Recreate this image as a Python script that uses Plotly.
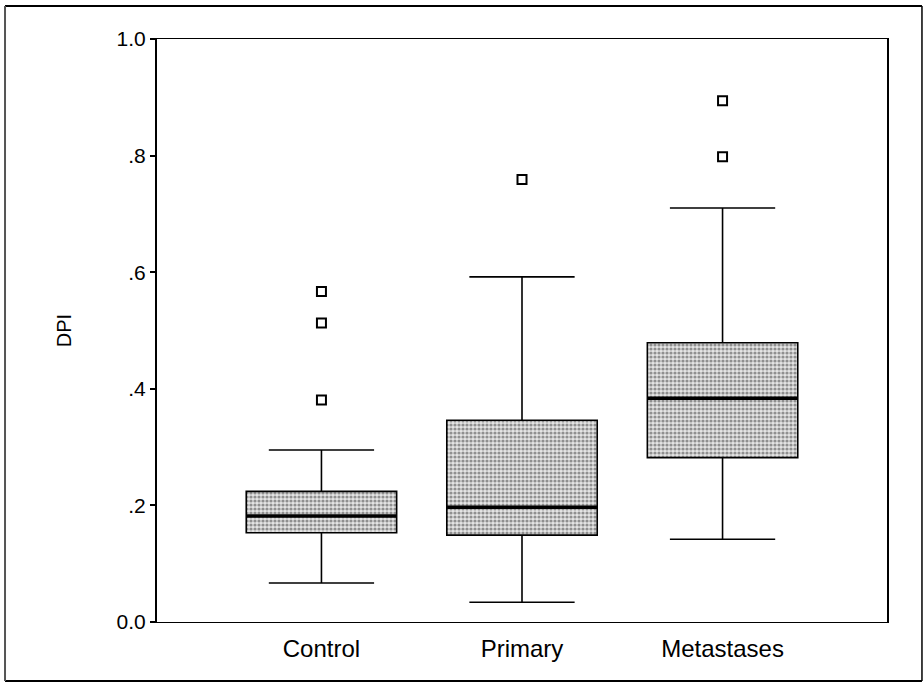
import plotly.graph_objects as go

# Group summaries of DPI
groups = ["Control", "Primary", "Metastases"]
q1 = [0.153, 0.149, 0.282]
median = [0.182, 0.197, 0.384]
q3 = [0.224, 0.346, 0.479]
lower_fence = [0.067, 0.034, 0.142]
upper_fence = [0.295, 0.592, 0.710]

# Outlying observations per group
outlier_groups = ["Control", "Control", "Control", "Primary", "Metastases", "Metastases"]
outlier_values = [0.567, 0.513, 0.381, 0.759, 0.894, 0.798]

y_ticks = [0.0, 0.2, 0.4, 0.6, 0.8, 1.0]
y_tick_text = ["0.0", ".2", ".4", ".6", ".8", "1.0"]

FONT = "Liberation Sans, Arial, sans-serif"
BOX_W = 0.75

fig = go.Figure()

# stippled fill of the interquartile boxes
fig.add_trace(go.Bar(
    x=groups,
    base=q1,
    y=[b - a for a, b in zip(q1, q3)],
    width=BOX_W,
    marker=dict(
        color="#dcdcdc",
        line=dict(width=0),
        pattern=dict(shape=".", fgcolor="#3a3a3a", bgcolor="#e4e4e4", size=4, solidity=0.5),
    ),
    hoverinfo="skip",
    showlegend=False,
))

# box outline, median and whiskers
fig.add_trace(go.Box(
    x=groups,
    q1=q1,
    median=median,
    q3=q3,
    lowerfence=lower_fence,
    upperfence=upper_fence,
    width=BOX_W,
    whiskerwidth=0.7,
    fillcolor="rgba(0,0,0,0)",
    line=dict(color="black", width=1.6),
    boxpoints=False,
    showlegend=False,
))

# heavier median bars
for i, m in enumerate(median):
    fig.add_trace(go.Scatter(
        x=[i - BOX_W / 2, i + BOX_W / 2],
        y=[m, m],
        xaxis="x2",
        mode="lines",
        line=dict(color="black", width=3.5),
        hoverinfo="skip",
        showlegend=False,
    ))

# outliers
fig.add_trace(go.Scatter(
    x=outlier_groups,
    y=outlier_values,
    mode="markers",
    marker=dict(symbol="square-open", size=9, color="black", line=dict(width=2, color="black")),
    showlegend=False,
))

X_RANGE = [-0.82, 2.82]

fig.update_layout(
    width=924,
    height=683,
    margin=dict(l=157, r=37, t=39, b=61),
    paper_bgcolor="white",
    plot_bgcolor="white",
    font=dict(family=FONT, color="black", size=20),
    barmode="overlay",
    xaxis=dict(
        type="category",
        categoryorder="array",
        categoryarray=groups,
        range=X_RANGE,
        showgrid=False,
        zeroline=False,
        showline=True,
        linecolor="black",
        linewidth=1,
        mirror=True,
        ticks="outside",
        ticklen=5,
        tickcolor="rgba(0,0,0,0)",
        tickfont=dict(family=FONT, size=24),
    ),
    xaxis2=dict(
        overlaying="x",
        range=X_RANGE,
        visible=False,
    ),
    yaxis=dict(
        range=[0, 1.0],
        tickvals=y_ticks,
        ticktext=y_tick_text,
        showgrid=False,
        zeroline=False,
        showline=True,
        linecolor="black",
        linewidth=2,
        mirror=True,
        ticks="outside",
        ticklen=5,
        tickwidth=2,
        tickcolor="black",
        tickfont=dict(family=FONT, size=21),
        title=dict(text="DPI", font=dict(family=FONT, size=20), standoff=40),
    ),
    shapes=[
        # outer frame around the whole figure
        dict(type="line", xref="paper", yref="paper",
             x0=-0.2082, x1=1.0479, y0=1.0566, y1=1.0566,
             line=dict(color="black", width=2)),
        dict(type="line", xref="paper", yref="paper",
             x0=-0.2082, x1=1.0479, y0=-0.1012, y1=-0.1012,
             line=dict(color="black", width=2)),
        dict(type="line", xref="paper", yref="paper",
             x0=-0.2082, x1=-0.2082, y0=-0.1012, y1=1.0566,
             line=dict(color="#555555", width=2)),
        dict(type="line", xref="paper", yref="paper",
             x0=1.0479, x1=1.0479, y0=-0.1012, y1=1.0566,
             line=dict(color="black", width=1.5)),
    ],
)

fig.write_html("out.html")
